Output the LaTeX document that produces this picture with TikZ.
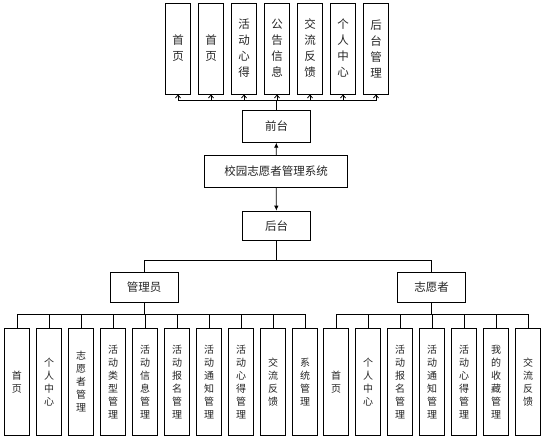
\documentclass[tikz,border=0pt]{standalone}
\usepackage{fontspec}
\setmainfont{Noto Sans CJK SC}
\usetikzlibrary{arrows.meta}

\tikzset{
  every box/.style={draw, line width=0.8pt, fill=white, inner sep=0pt, align=center, text=black!85},
  page box/.style={every box, minimum width=25, minimum height=91, font=\fontsize{11.5}{16}\selectfont},
  leaf box/.style={every box, minimum width=24.5, minimum height=106.5, font=\fontsize{10}{13}\selectfont},
  mid box/.style={every box, minimum width=68.4, minimum height=30.5, font=\fontsize{11.5}{14}\selectfont},
  up tip/.style={-{Straight Barb[length=3pt,width=5pt]}},
  mid tip/.style={-{Latex[length=5pt,width=4.5pt]}},
}

\begin{document}
\begin{tikzpicture}[x=1pt, y=-1pt, line width=0.8pt]
	\useasboundingbox (0,0) rectangle (545,441);
	
	% middle column
	\node [mid box, minimum width=142.3, minimum height=31.6] (system) at (276,171.5) {校园志愿者管理系统};
	\node [mid box, minimum height=31.6] (front) at (276.5,126.5) {前台};
	\node [mid box, minimum height=29.7] (back) at (276.5,225.9) {后台};
	\node [mid box] (admin) at (144.2,287.3) {管理员};
	\node [mid box] (volunteer) at (431.5,287.3) {志愿者};
	
	\draw [mid tip] (system) -- (front);
	\draw [mid tip] (system) -- (back);
	
	% front pages
	\foreach \m [count=\y] in {{首\\页}, {首\\页}, {活\\动\\心\\得}, {公\\告\\信\\息}, {交\\流\\反\\馈}, {个\\人\\中\\心}, {后\\台\\管\\理}}
	\node [page box] (page-\y) at (178+33*\y-33,48.5) {\m};
	
	\coordinate (front-bus) at (276.5,100);
	\draw (front) -- (front-bus);
	\foreach \i in {1,...,7}
	\draw [up tip] (front-bus) -| (page-\i);
	
	% admin and volunteer
	\coordinate (back-bus) at (276.5,260);
	\draw (back) -- (back-bus);
	\draw (back-bus) -| (admin);
	\draw (back-bus) -| (volunteer);
	
	\foreach \m [count=\y] in {{首\\页}, {个\\人\\中\\心}, {志\\愿\\者\\管\\理}, {活\\动\\类\\型\\管\\理}, {活\\动\\信\\息\\管\\理}, {活\\动\\报\\名\\管\\理}, {活\\动\\通\\知\\管\\理}, {活\\动\\心\\得\\管\\理}, {交\\流\\反\\馈}, {系\\统\\管\\理}}
	\node [leaf box] (admin-\y) at (17+32*\y-32,381.7) {\m};
	
	\foreach \m [count=\y] in {{首\\页}, {个\\人\\中\\心}, {活\\动\\报\\名\\管\\理}, {活\\动\\通\\知\\管\\理}, {活\\动\\心\\得\\管\\理}, {我\\的\\收\\藏\\管\\理}, {交\\流\\反\\馈}}
	\node [leaf box] (volunteer-\y) at (336+32*\y-32,381.7) {\m};
	
	\coordinate (admin-bus) at (144.2,314.3);
	\draw (admin) -- (admin-bus);
	\foreach \i in {1,...,10}
	\draw (admin-bus) -| (admin-\i);
	
	\coordinate (volunteer-bus) at (431.5,314.3);
	\draw (volunteer) -- (volunteer-bus);
	\foreach \i in {1,...,7}
	\draw (volunteer-bus) -| (volunteer-\i);
\end{tikzpicture}
\end{document}
